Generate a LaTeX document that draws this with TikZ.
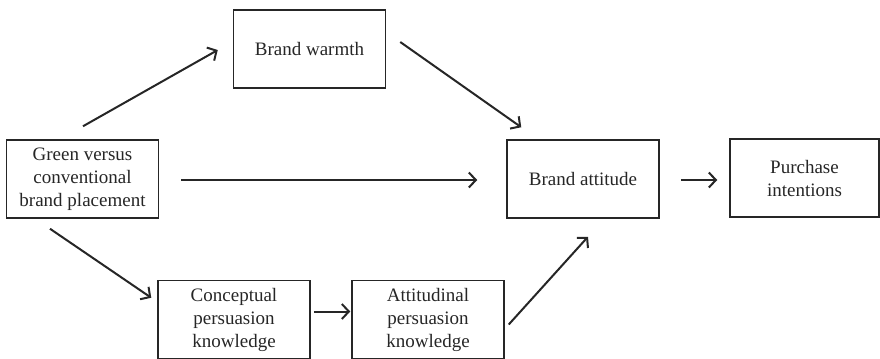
\documentclass[tikz,border=0pt]{standalone}
\usepackage{fontspec}
\setmainfont{Liberation Serif}
\usetikzlibrary{arrows.meta,calc}
\begin{document}
\begin{tikzpicture}[x=.5pt,y=-.5pt,
  box/.style={draw=black!85,line width=.75pt,minimum width=76pt,minimum height=39pt,
    inner sep=1pt,align=center,font=\fontsize{9.5}{11.5}\selectfont,text=black!85},
  arr/.style={draw=black!85,line width=1pt,-{Straight Barb[length=3.5pt,width=7.5pt]}}]
\useasboundingbox (0,0) rectangle (880,359);
% boxes
\node[box] (warmth) at (309.5,49) {Brand warmth};
\node[box] (green) at (82.5,179) {Green versus\\conventional\\brand placement};
\node[box] (concept) at (234,319.5) {Conceptual\\persuasion\\knowledge};
\node[box] (attit) at (428,319.5) {Attitudinal\\persuasion\\knowledge};
\node[box] (attitude) at (583,179) {Brand attitude};
\node[box,minimum width=74.5pt] (purchase) at (804.5,178) {Purchase\\intentions};
% paths
\draw[arr] ($(green.north)+(.5,-13)$) -- ($(warmth.west)+(-15,1)$);
\draw[arr] ($(warmth.east)+(14,-7)$) -- ($(attitude.north west)+(15,-12)$);
\draw[arr] ($(green.east)+(22,1)$) -- ($(attitude.west)+(-29,1)$);
\draw[arr] ($(green.south)+(-32.5,10)$) -- ($(concept.north west)+(-6,18)$);
\draw[arr] ($(concept.east)+(3,-8)$) -- ($(attit.west)+(-1,-8)$);
\draw[arr] ($(attit.east)+(4,5)$) -- ($(attitude.south)+(5,18)$);
\draw[arr] ($(attitude.east)+(21,1)$) -- ($(purchase.west)+(-12,2)$);
\end{tikzpicture}
\end{document}
